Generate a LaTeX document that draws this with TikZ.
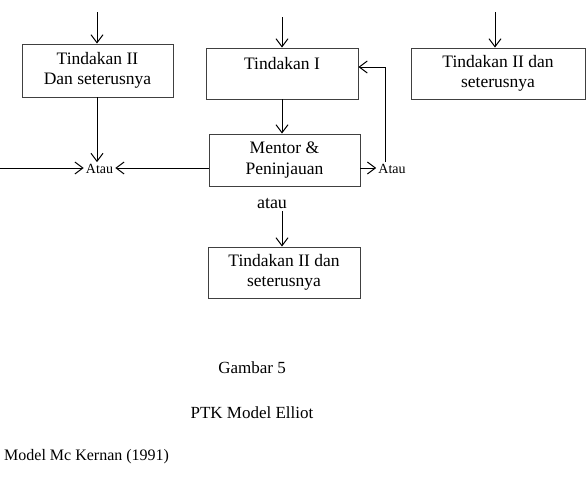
\documentclass[tikz,border=0pt]{standalone}
\usepackage{fontspec}
\setmainfont{Liberation Serif}
\usetikzlibrary{arrows.meta}
\tikzset{
  boxnode/.style={draw=black!75, line width=0.9pt, rectangle, inner sep=0pt, align=center,
    font=\fontsize{17.5}{20.5}\selectfont},
  arr/.style={line width=1pt, -{Straight Barb[length=8pt,width=12pt]}},
  smalltxt/.style={inner sep=2pt, font=\fontsize{14}{16}\selectfont},
  bigtxt/.style={inner sep=2pt, font=\fontsize{18}{20}\selectfont},
  captxt/.style={inner sep=0pt, font=\fontsize{17}{20}\selectfont}
}
\begin{document}
\begin{tikzpicture}[x=1pt,y=-1pt]
\useasboundingbox (0,0) rectangle (587,480);
% boxes
\node[boxnode, minimum width=151pt, minimum height=53pt] (a) at (97.5,70.5) {Tindakan II\\Dan seterusnya};
\node[boxnode, minimum width=152pt, minimum height=51pt] (b) at (282,73.5) {Tindakan I\\\mbox{}};
\node[boxnode, minimum width=174pt, minimum height=51pt] (d) at (498,73.5) {Tindakan II dan\\seterusnya};
\node[boxnode, minimum width=151pt, minimum height=52pt] (c) at (284.5,160) {Mentor \&\\Peninjauan};
\node[boxnode, minimum width=152pt, minimum height=51pt] (e) at (284,272.5) {Tindakan II dan\\seterusnya};
% small labels
\node[smalltxt] (atauL) at (99.5,169) {Atau};
\node[smalltxt] (atauR) at (392,169) {Atau};
\node[bigtxt] (atau) at (272,204) {atau};
% free ends
\coordinate (ta) at (97,12);
\coordinate (tb) at (282,17);
\coordinate (td) at (495,12);
\coordinate (left) at (0,168);
\coordinate (turn) at (385,67);
% connectors
\draw[arr] (ta) -- (ta |- a.north);
\draw[arr] (tb) -- (tb |- b.north);
\draw[arr] (td) -- (td |- d.north);
\draw[arr] (b.south) -- (b.south |- c.north);
\draw[arr] (ta |- a.south) -- (ta |- atauL.north);
\draw[arr] (left) -- (left -| atauL.west);
\draw[arr] (c.west |- left) -- (atauL.east |- left);
\draw[arr] (c.east |- left) -- (atauR.west |- left);
\draw[arr] (turn |- atauR.north) -- (turn) -- (b.east |- turn);
\draw[arr] (tb |- atau.south) -- (tb |- e.north);
% captions
\node[captxt] (g5) at (252,368) {Gambar 5};
\node[captxt] (ptk) at (252,413) {PTK Model Elliot};
\node[captxt, anchor=west, font=\fontsize{16}{19}\selectfont] (mk) at (4,457) {Model Mc Kernan (1991)};
\end{tikzpicture}
\end{document}
